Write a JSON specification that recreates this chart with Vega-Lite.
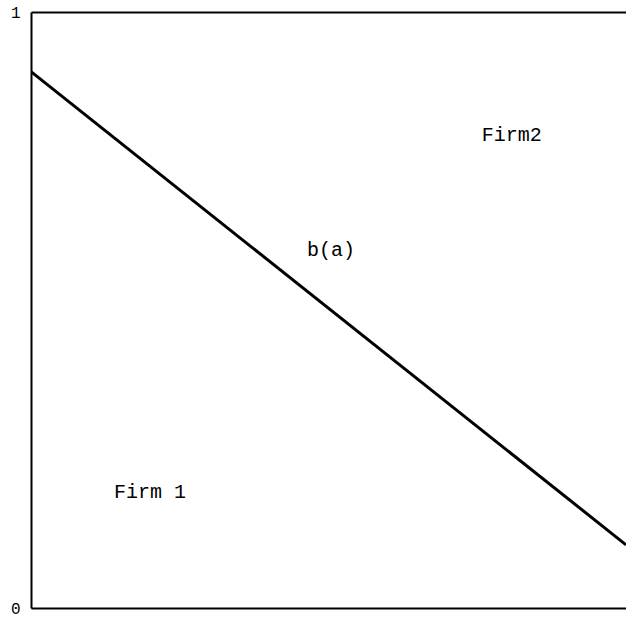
{
  "$schema": "https://vega.github.io/schema/vega-lite/v6.json",
  "width": 595,
  "height": 596,
  "autosize": {"type": "none"},
  "padding": {"left": 31, "top": 12, "right": 0, "bottom": 24},
  "background": "white",
  "config": {"view": {"stroke": null}},
  "datasets": {
    "line": [
      {"a": 0, "b": 0.9},
      {"a": 1, "b": 0.106}
    ],
    "labels": [
      {"a": 0.808, "b": 0.794, "text": "Firm2"},
      {"a": 0.504, "b": 0.601, "text": "b(a)"},
      {"a": 0.2, "b": 0.195, "text": "Firm 1"}
    ]
  },
  "layer": [
    {
      "data": {"name": "line"},
      "mark": {"type": "line", "color": "black", "strokeWidth": 3, "clip": true},
      "encoding": {
        "x": {"field": "a", "type": "quantitative", "scale": {"domain": [0, 1], "nice": false},
          "axis": {"orient": "bottom", "title": null, "labels": false, "ticks": false, "grid": false, "domainColor": "black", "domainWidth": 2}},
        "y": {"field": "b", "type": "quantitative", "scale": {"domain": [0, 1], "nice": false},
          "axis": {"title": null, "values": [0, 1], "format": "d", "ticks": false, "grid": false, "domainColor": "black", "domainWidth": 2,
            "labelFont": "Liberation Mono", "labelFontSize": 16, "labelColor": "black", "labelPadding": 11, "labelBaseline": "middle", "labelFlush": false}}
      }
    },
    {
      "data": {"name": "labels"},
      "mark": {"type": "text", "font": "Liberation Mono", "fontSize": 20, "color": "black", "align": "center", "baseline": "middle"},
      "encoding": {
        "x": {"field": "a", "type": "quantitative", "axis": {"orient": "top", "title": null, "labels": false, "ticks": false, "grid": false, "domainColor": "black", "domainWidth": 2}},
        "y": {"field": "b", "type": "quantitative"},
        "text": {"field": "text"}
      }
    }
  ],
  "resolve": {"axis": {"x": "independent"}}
}
